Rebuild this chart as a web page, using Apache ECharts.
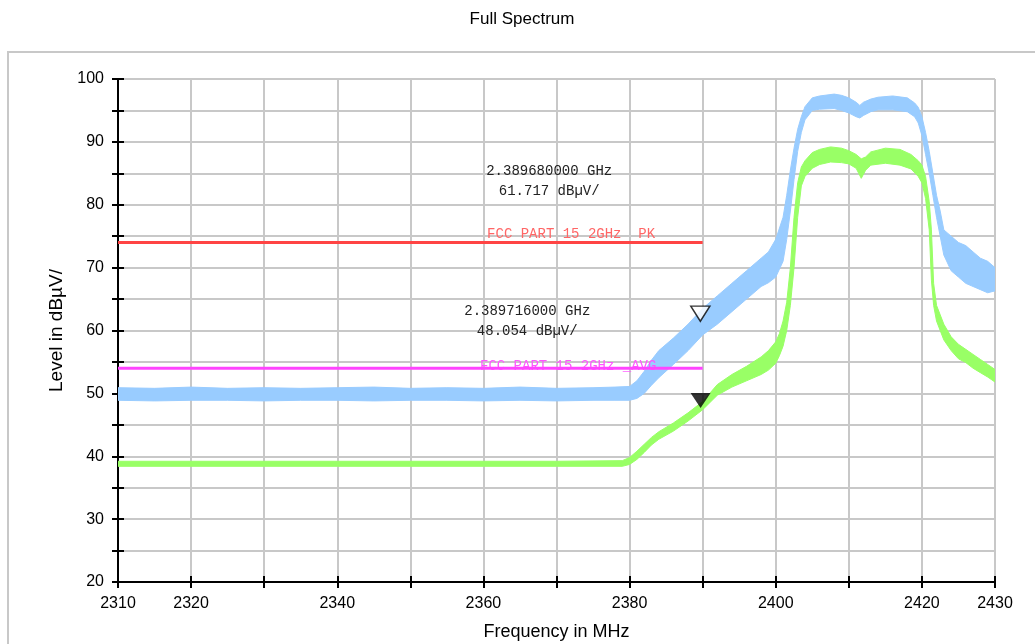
<!DOCTYPE html>
<html>
<head>
<meta charset="utf-8">
<script src="https://cdn.jsdelivr.net/npm/echarts@6/dist/echarts.min.js"></script>
<style>html,body{margin:0;padding:0;background:#fff}#c{width:1035px;height:644px}</style>
</head>
<body>
<div id="c"></div>
<script>
// ---- Peak trace (light blue): frequency (MHz), lower / upper envelope of the noisy band (dBµV)
const pkFreq  = [2310,2315,2320,2325,2330,2335,2340,2345,2350,2355,2360,2365,2370,2375,2378,2380,2381,2382,2383,2384,2386,2388,2390,2392,2394,2396,2398,2399,2400,2401,2401.5,2402,2402.5,2403,2403.5,2404,2405,2406,2408,2409,2410,2411,2411.5,2412,2413,2414,2416,2418,2419,2419.5,2420,2420.5,2421,2421.5,2422,2422.5,2423,2424,2425,2426,2427,2428,2429,2430];
const pkLow   = [48.9,48.8,48.9,48.9,48.8,48.9,48.9,48.8,48.9,48.9,48.8,48.9,48.8,48.9,48.9,48.9,49.2,50.0,51.3,52.5,54.6,56.8,59.3,61.0,63.0,65.0,67.0,67.6,68.5,71.0,74.5,79.0,84.0,88.5,91.5,93.5,95.0,95.2,95.3,95.0,94.6,94.0,93.8,94.2,94.8,95.1,95.1,94.8,94.0,93.0,91.0,88.0,85.0,81.5,78.0,75.0,72.0,69.5,68.5,67.5,67.0,66.5,66.0,66.3];
const pkHigh  = [50.9,50.8,51.0,50.8,50.9,50.8,50.9,51.0,50.8,50.9,50.8,51.0,50.8,50.9,51.0,51.1,52.0,53.5,55.3,56.8,58.8,61.0,63.5,65.5,67.5,69.5,71.5,72.5,74.5,78.0,81.5,85.5,89.0,92.0,94.0,95.6,97.0,97.3,97.6,97.4,97.0,96.3,95.8,96.3,96.8,97.1,97.3,97.0,96.2,95.5,94.0,91.5,88.5,85.0,81.5,79.0,76.0,75.0,74.0,73.5,72.5,71.5,71.0,70.0];

// ---- Average trace (light green)
const avFreq  = [2310,2320,2330,2340,2350,2360,2370,2379,2380,2381,2382,2383,2384,2386,2388,2390,2392,2394,2396,2398,2399,2400,2400.5,2401,2401.5,2402,2402.5,2403,2403.5,2404,2405,2406,2407.5,2409,2410,2411,2411.7,2412.3,2413,2415,2417,2418.5,2419.5,2420,2420.5,2421,2421.3,2421.6,2422,2423,2424,2425,2426,2427,2428,2429,2430];
const avLow   = [38.4,38.4,38.4,38.4,38.4,38.4,38.4,38.4,38.7,39.5,40.6,41.8,42.7,44.0,45.6,47.4,49.7,51.0,52.0,53.0,53.7,54.8,56.0,57.5,60.0,64.0,70.0,78.0,83.0,84.5,85.8,86.4,86.8,86.7,86.5,85.8,84.2,85.5,86.3,86.6,86.3,85.7,84.5,83.5,81.0,76.0,68.0,64.0,61.5,58.5,56.8,55.5,54.9,54.0,53.3,52.6,51.8];
const avHigh  = [39.2,39.2,39.2,39.2,39.2,39.2,39.2,39.3,39.8,40.8,41.9,43.0,43.9,45.3,46.9,48.7,51.4,53.0,54.3,55.8,56.8,58.2,59.5,61.5,64.5,70.0,78.0,83.5,86.0,87.0,88.3,88.8,89.2,89.0,88.6,88.0,87.3,87.6,88.4,89.0,88.8,88.0,87.0,86.3,84.5,80.5,76.0,67.5,64.0,61.0,59.0,57.8,57.0,56.2,55.4,54.6,53.8];

// ---- Limit lines
const limitFreq = [2310, 2390];
const limitPK   = [74, 74];
const limitAVG  = [54, 54];
const limitNames = ['FCC PART 15 2GHz  PK', 'FCC PART 15 2GHz _AVG'];

// ---- Markers
const markerPK  = [2389.680, 61.717];
const markerAV  = [2389.716, 48.054];
const markerTextPK = ['2.389680000 GHz', '61.717 dBµV/'];
const markerTextAV = ['2.389716000 GHz', '48.054 dBµV/'];

// ---- Axes
const xMin = 2310, xMax = 2430, xStep = 10;
const xLabels = [2310, 2320, 2340, 2360, 2380, 2400, 2420, 2430];
const yMin = 20, yMax = 100, yStep = 5;
const yLabels = [20, 30, 40, 50, 60, 70, 80, 90, 100];

const BLUE = '#99ccff', GREEN = '#99ff66';
const pairs = (f, v) => f.map((x, i) => [x, v[i]]);

const chart = echarts.init(document.getElementById('c'));
const SANS = 'Liberation Sans, Arial, sans-serif';
const axisFont = { fontFamily: SANS, fontSize: 16, color: '#000' };
const annFont = 'Liberation Mono, DejaVu Sans Mono, monospace';

// band drawn as polygon between lower and upper envelope, through the axis scales
function bandSeries(id, f, lo, hi, color, z) {
  const rows = f.map((x, i) => [x, lo[i], hi[i]]);
  return {
    name: id, type: 'custom', data: rows, z: z, silent: true, clip: true,
    encode: { x: 0, y: [1, 2] },
    renderItem: function (params, api) {
      if (params.dataIndex !== 0) return null;
      const top = rows.map(r => api.coord([r[0], r[2]]));
      const bot = rows.map(r => api.coord([r[0], r[1]])).reverse();
      return { type: 'polygon', shape: { points: top.concat(bot) },
        style: { fill: color, stroke: color, lineWidth: 1 } };
    }
  };
}

chart.setOption({
  animation: false,
  backgroundColor: '#fff',
  title: { text: 'Full Spectrum', left: 517, top: 6, textAlign: 'center',
    textStyle: { fontFamily: SANS, fontSize: 17, fontWeight: 'normal', color: '#000' } },
  graphic: [{ type: 'rect', shape: { x: 8, y: 52, width: 1040, height: 620 }, style: { fill: 'none', stroke: '#c8c8c8', lineWidth: 2 }, z: -10 }],
  grid: { left: 118, right: 40, top: 79, bottom: 62, containLabel: false, outerBoundsMode: 'none' },
  xAxis: [
    { type: 'value', min: xMin, max: xMax, interval: xStep, position: 'bottom',
      name: 'Frequency in MHz', nameLocation: 'middle', nameGap: 41,
      nameTextStyle: { fontFamily: SANS, fontSize: 18, color: '#000' },
      axisLine: { show: true, lineStyle: { color: '#000', width: 2 } },
      axisTick: { show: true, inside: false, length: 6, lineStyle: { color: '#000', width: 2 } },
      axisLabel: Object.assign({ margin: 14, formatter: v => xLabels.indexOf(v) >= 0 ? String(v) : '' }, axisFont),
      splitLine: { show: true, lineStyle: { color: '#c8c8c8', width: 2 } } },
    { type: 'value', min: xMin, max: xMax, interval: xStep, position: 'bottom', gridIndex: 0,
      axisLine: { show: false }, axisLabel: { show: false }, splitLine: { show: false },
      axisTick: { show: true, inside: true, length: 6, lineStyle: { color: '#000', width: 2 } } }
  ],
  yAxis: [
    { type: 'value', min: yMin, max: yMax, interval: yStep, position: 'left',
      name: 'Level in dBµV/', nameLocation: 'middle', nameGap: 49, nameRotate: 90,
      nameTextStyle: { fontFamily: SANS, fontSize: 19, color: '#000' },
      axisLine: { show: true, lineStyle: { color: '#000', width: 2 } },
      axisTick: { show: true, inside: false, length: 6, lineStyle: { color: '#000', width: 2 } },
      axisLabel: Object.assign({ margin: 14, formatter: v => yLabels.indexOf(v) >= 0 ? String(v) : '' }, axisFont),
      splitLine: { show: true, lineStyle: { color: '#c8c8c8', width: 2 } } },
    { type: 'value', min: yMin, max: yMax, interval: yStep, position: 'left', gridIndex: 0,
      axisLine: { show: false }, axisLabel: { show: false }, splitLine: { show: false },
      axisTick: { show: true, inside: true, length: 6, lineStyle: { color: '#000', width: 2 } } }
  ],
  series: [
    bandSeries('pk', pkFreq, pkLow, pkHigh, BLUE, 2),
    bandSeries('av', avFreq, avLow, avHigh, GREEN, 3),
    { name: 'limitPK', type: 'line', data: pairs(limitFreq, limitPK), symbol: 'none', z: 5,
      lineStyle: { color: '#ff4444', width: 3 },
      markPoint: { symbol: 'circle', symbolSize: 0, silent: true,
        data: [{ coord: [2372, 74], label: { show: true, formatter: limitNames[0], offset: [0, -8],
          fontFamily: annFont, fontSize: 14, color: '#ff6666' } }] } },
    { name: 'limitAVG', type: 'line', data: pairs(limitFreq, limitAVG), symbol: 'none', z: 5,
      lineStyle: { color: '#ff44ff', width: 3 },
      markPoint: { symbol: 'circle', symbolSize: 0, silent: true,
        data: [{ coord: [2371.6, 54], label: { show: true, formatter: limitNames[1], offset: [0, -2],
          fontFamily: annFont, fontSize: 14, color: '#ff55ff' } }] } },
    { name: 'markerPK', type: 'scatter', data: [markerPK], z: 8,
      symbol: 'triangle', symbolRotate: 180, symbolSize: [19, 15], symbolOffset: [0, -6],
      itemStyle: { color: '#fff', borderColor: '#000', borderWidth: 1.5 },
      markPoint: { symbol: 'circle', symbolSize: 0, silent: true,
        data: [{ coord: [2369, 83.8], label: { show: true, formatter: markerTextPK.join('\n'), lineHeight: 20,
          fontFamily: annFont, fontSize: 14, color: '#222', align: 'center' } }] } },
    { name: 'markerAV', type: 'scatter', data: [markerAV], z: 8,
      symbol: 'triangle', symbolRotate: 180, symbolSize: [20, 15], symbolOffset: [0, -5],
      itemStyle: { color: '#000' },
      markPoint: { symbol: 'circle', symbolSize: 0, silent: true,
        data: [{ coord: [2366, 61.5], label: { show: true, formatter: markerTextAV.join('\n'), lineHeight: 20,
          fontFamily: annFont, fontSize: 14, color: '#222', align: 'center' } }] } }
  ]
});
</script>
</body>
</html>
